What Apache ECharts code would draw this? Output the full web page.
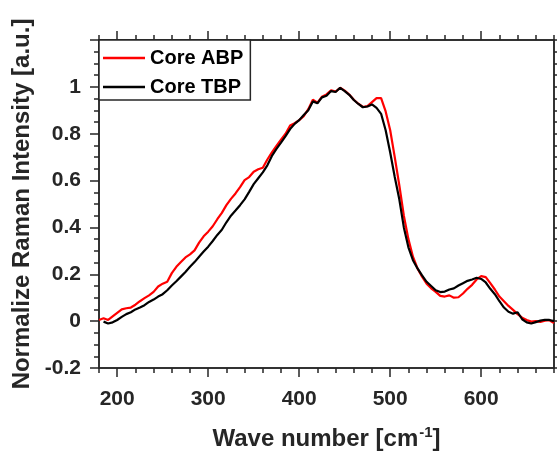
<!DOCTYPE html>
<html>
<head>
<meta charset="utf-8">
<script src="https://cdn.jsdelivr.net/npm/echarts@6/dist/echarts.min.js"></script>
<style>
html,body{margin:0;padding:0;background:#fff;}
#chart{width:557px;height:458px;}
</style>
</head>
<body>
<div id="chart"></div>
<script>
// Wave numbers (cm^-1)
var waveNumbers = [180,185,190,195,200,205,210,215,220,225,230,235,240,245,250,255,260,265,270,275,280,285,290,295,300,305,310,315,320,325,330,335,340,345,350,355,360,365,370,375,380,385,390,395,400,405,410,415,420,425,430,435,440,445,450,455,460,465,470,475,480,485,490,495,500,505,510,515,520,525,530,535,540,545,550,555,560,565,570,575,580,585,590,595,600,605,610,615,620,625,630,635,640,645,650,655,660,665,670,675,680];

// Core ABP (red)
var abpValues = [0.005,0.012,0.005,0.02,0.035,0.05,0.055,0.058,0.07,0.085,0.098,0.11,0.125,0.148,0.16,0.168,0.205,0.232,0.252,0.272,0.285,0.302,0.335,0.362,0.382,0.405,0.435,0.462,0.495,0.522,0.545,0.572,0.602,0.615,0.638,0.648,0.655,0.69,0.72,0.748,0.775,0.80,0.835,0.845,0.858,0.875,0.905,0.945,0.932,0.958,0.968,0.985,0.98,0.996,0.984,0.967,0.945,0.928,0.914,0.918,0.935,0.952,0.952,0.895,0.815,0.70,0.58,0.45,0.35,0.275,0.225,0.19,0.16,0.14,0.125,0.108,0.105,0.11,0.1,0.102,0.118,0.138,0.155,0.178,0.192,0.188,0.162,0.135,0.105,0.085,0.065,0.048,0.03,0.015,0.005,-0.002,0.0,-0.003,0.002,0.004,-0.008];

// Core TBP (black)
var tbpValues = [null,-0.002,-0.01,-0.005,0.005,0.018,0.03,0.038,0.05,0.058,0.068,0.082,0.092,0.105,0.115,0.132,0.152,0.17,0.19,0.21,0.232,0.252,0.275,0.297,0.318,0.342,0.368,0.39,0.422,0.45,0.472,0.495,0.52,0.552,0.585,0.61,0.635,0.665,0.705,0.735,0.762,0.79,0.82,0.842,0.858,0.88,0.9,0.938,0.93,0.955,0.962,0.982,0.978,0.996,0.982,0.966,0.944,0.927,0.913,0.916,0.925,0.91,0.885,0.815,0.72,0.615,0.52,0.40,0.315,0.26,0.225,0.195,0.168,0.15,0.132,0.124,0.126,0.135,0.14,0.152,0.162,0.172,0.178,0.185,0.18,0.165,0.138,0.115,0.085,0.058,0.04,0.032,0.038,0.008,-0.005,-0.01,-0.004,0.002,0.006,0.005,0.0];

var xMajorTicks = [200,300,400,500,600];
var seriesNames = ['Core ABP','Core TBP'];

function pairs(xs, ys){ var out=[]; for(var i=0;i<xs.length;i++){ if(ys[i]!==null) out.push([xs[i], ys[i]]); } return out; }

var axisColor = '#262626';
var font = '"Liberation Sans", Arial, sans-serif';
var lineStyle = {color: axisColor, width: 1.5};

function xAx(pos, major){
  var a = {type:'value', position:pos, min:180, max:680, splitLine:{show:false},
    axisLine:{show:true, onZero:false, lineStyle:lineStyle}};
  if(major){
    a.axisTick = {show:true, customValues:xMajorTicks, length:9, lineStyle:lineStyle};
    a.axisLabel = pos==='bottom' ? {show:true, customValues:xMajorTicks, margin:21, color:axisColor, fontFamily:font, fontWeight:'bold', fontSize:21} : {show:false};
  } else {
    a.interval = 20;
    a.axisTick = {show:true, length:5, lineStyle:lineStyle};
    a.axisLabel = {show:false};
  }
  return a;
}
function yAx(pos, major){
  var a = {type:'value', position:pos, min:-0.2, max:1.2, splitLine:{show:false},
    axisLine:{show:true, onZero:false, lineStyle:lineStyle}};
  if(major){
    a.interval = 0.2;
    a.axisTick = {show:true, length:9, lineStyle:lineStyle};
    a.axisLabel = pos==='left' ? {show:true, margin:18, color:axisColor, fontFamily:font, fontWeight:'bold', fontSize:21,
      formatter:function(v){ if(Math.abs(v-1.2)<1e-6) return ''; return String(+(+v).toFixed(2)); }} : {show:false};
  } else {
    a.interval = 0.05;
    a.axisTick = {show:true, length:5, lineStyle:lineStyle};
    a.axisLabel = {show:false};
  }
  return a;
}

var xAxes = [xAx('bottom',false), xAx('bottom',true), xAx('top',false), xAx('top',true)];
xAxes[1].name = 'Wave number [cm{sup|-1}]';
xAxes[1].nameLocation = 'middle';
xAxes[1].nameGap = 57;
xAxes[1].nameTextStyle = {color:axisColor, fontFamily:font, fontWeight:'bold', fontSize:24, lineHeight:28,
  rich:{sup:{fontFamily:font, fontWeight:'bold', fontSize:15, color:axisColor, verticalAlign:'top', lineHeight:28, padding:[0,0,0,1]}}};
var yAxes = [yAx('left',false), yAx('left',true), yAx('right',false), yAx('right',true)];
yAxes[1].name = 'Normalize Raman Intensity [a.u.]';
yAxes[1].nameLocation = 'middle';
yAxes[1].nameGap = 62;
yAxes[1].nameTextStyle = {color:axisColor, fontFamily:font, fontWeight:'bold', fontSize:24};

var chart = echarts.init(document.getElementById('chart'), null, {renderer:'canvas'});
chart.setOption({
  animation:false,
  backgroundColor:'#ffffff',
  grid:{left:99, right:3, top:40, bottom:83, containLabel:false},
  legend:{
    data:seriesNames, orient:'vertical', left:99, top:40,
    icon:'rect', itemWidth:42, itemHeight:2.5, itemGap:9,
    padding:[8,7,3,4],
    borderColor:axisColor, borderWidth:1.5, backgroundColor:'#fff',
    textStyle:{color:'#000', fontFamily:font, fontWeight:'bold', fontSize:20}
  },
  xAxis:xAxes,
  yAxis:yAxes,
  series:[
    {name:seriesNames[0], type:'line', xAxisIndex:0, yAxisIndex:0, data:pairs(waveNumbers, abpValues), showSymbol:false, symbol:'none',
      lineStyle:{color:'#ff0000', width:2.2}, itemStyle:{color:'#ff0000'}},
    {name:seriesNames[1], type:'line', xAxisIndex:0, yAxisIndex:0, data:pairs(waveNumbers, tbpValues), showSymbol:false, symbol:'none',
      lineStyle:{color:'#000000', width:2.2}, itemStyle:{color:'#000000'}}
  ]
});
</script>
</body>
</html>
